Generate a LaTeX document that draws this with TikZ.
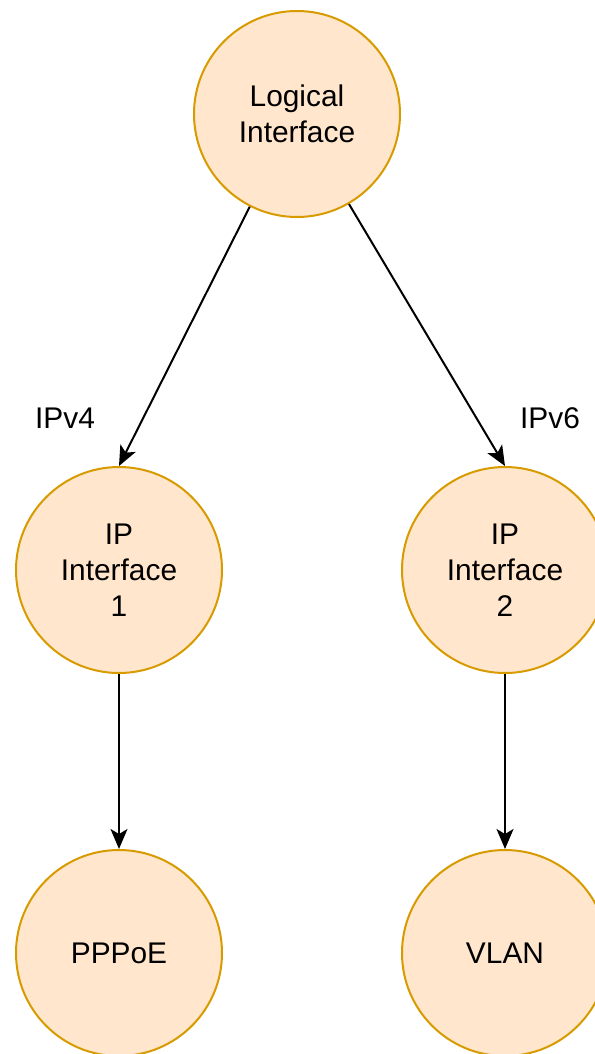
\documentclass[tikz,border=0pt]{standalone}
\usepackage{fontspec}
\setmainfont{Liberation Sans}
\usetikzlibrary{arrows.meta}
\definecolor{nodefill}{HTML}{FFE6CC}
\definecolor{nodedraw}{HTML}{D79B00}
\begin{document}
\begin{tikzpicture}[x=1bp,y=-1bp,
  ifnode/.style={circle, draw=nodedraw, fill=nodefill, line width=2bp,
    minimum size=206bp, inner sep=0pt, align=center,
    font=\fontsize{30}{36}\selectfont},
  conn/.style={draw=black, line width=2bp, -{Stealth[length=20bp,width=17bp,inset=5bp]}},
  lbl/.style={font=\fontsize{30}{36}\selectfont, inner sep=0pt}]
\useasboundingbox (0,0) rectangle (595,1054);
\node[ifnode] (L) at (297,114) {Logical\\Interface};
\node[ifnode] (A) at (119,570) {IP\\Interface\\1};
\node[ifnode] (B) at (505,570) {IP\\Interface\\2};
\node[ifnode] (P) at (119,953) {PPPoE};
\node[ifnode] (V) at (505,953) {VLAN};
\node[lbl] (l4) at (65,418) {IPv4};
\node[lbl] (l6) at (550,418) {IPv6};
\draw[conn] (L.243) -- (A.north);
\draw[conn] (L.300) -- (B.north);
\draw[conn] (A.south) -- (P.north);
\draw[conn] (B.south) -- (V.north);
\end{tikzpicture}
\end{document}
